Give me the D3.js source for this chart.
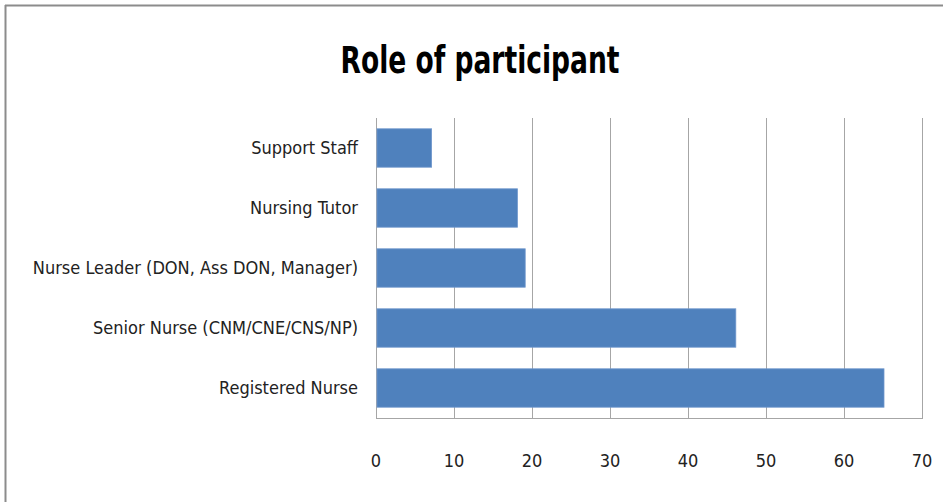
<!DOCTYPE html>
<html>
<head>
<meta charset="utf-8">
<script src="https://cdn.jsdelivr.net/npm/d3@7"></script>
<style>
  body { margin: 0; background: #fff; }
  text { font-family: "Liberation Sans Narrow", "DejaVu Sans Condensed", "Open Sans", sans-serif; }
</style>
</head>
<body>
<script>
// data
var roles = ["Support Staff", "Nursing Tutor", "Nurse Leader (DON, Ass DON, Manager)",
             "Senior Nurse (CNM/CNE/CNS/NP)", "Registered Nurse"];
var counts = [7, 18, 19, 46, 65];
var xTicks = [0, 10, 20, 30, 40, 50, 60, 70];

var w = 943, h = 502;
var plotLeft = 376, plotRight = 922, plotTop = 118, plotBottom = 418;

var svg = d3.select("body").append("svg")
    .attr("width", w)
    .attr("height", h);

// outer frame (only top and left show)
svg.append("line").attr("x1", 5).attr("x2", w).attr("y1", 5.5).attr("y2", 5.5)
   .attr("stroke", "#8c8c8c").attr("stroke-width", 2);
svg.append("line").attr("x1", 5.5).attr("x2", 5.5).attr("y1", 5).attr("y2", h)
   .attr("stroke", "#8c8c8c").attr("stroke-width", 2);

// title
svg.append("text")
   .attr("x", 480)
   .attr("y", 73)
   .style("text-anchor", "middle")
   .style("font-size", "37px")
   .style("font-weight", "bold")
   .attr("textLength", 279)
   .attr("lengthAdjust", "spacingAndGlyphs")
   .text("Role of participant");

var xScale = d3.scaleLinear()
    .domain([0, 70])
    .range([plotLeft, plotRight]);

var yScale = d3.scaleBand()
    .domain(roles)
    .range([plotTop, plotBottom])
    .paddingInner(0.36)
    .paddingOuter(0.18);

// gridlines
svg.selectAll(".grid")
   .data(xTicks)
   .enter().append("line")
   .attr("class", "grid")
   .attr("x1", function(d) { return Math.round(xScale(d)) + 0.5; })
   .attr("x2", function(d) { return Math.round(xScale(d)) + 0.5; })
   .attr("y1", plotTop)
   .attr("y2", plotBottom)
   .attr("stroke", "#a6a6a6")
   .attr("stroke-width", 1);

// baseline
svg.append("line")
   .attr("x1", plotLeft).attr("x2", plotRight + 1)
   .attr("y1", plotBottom + 0.5).attr("y2", plotBottom + 0.5)
   .attr("stroke", "#a6a6a6");

// bars
svg.selectAll(".bar")
   .data(counts)
   .enter().append("rect")
   .attr("class", "bar")
   .attr("x", xScale(0) + 1)
   .attr("y", function(d, i) { return yScale(roles[i]); })
   .attr("width", function(d) { return xScale(d) - xScale(0); })
   .attr("height", yScale.bandwidth())
   .attr("fill", "#4f81bd")
   .attr("stroke", "#6f97cc")
   .attr("stroke-width", 0.8);

// category labels
svg.selectAll(".cat")
   .data(roles)
   .enter().append("text")
   .attr("class", "cat")
   .attr("x", plotLeft - 18)
   .attr("y", function(d) { return yScale(d) + yScale.bandwidth() / 2; })
   .attr("dy", "0.35em")
   .style("text-anchor", "end")
   .style("font-size", "18px")
   .attr("fill", "#222")
   .text(function(d) { return d; });

// x tick labels
svg.selectAll(".tick-label")
   .data(xTicks)
   .enter().append("text")
   .attr("class", "tick-label")
   .attr("x", function(d) { return xScale(d); })
   .attr("y", 461)
   .attr("dy", "0.35em")
   .style("text-anchor", "middle")
   .style("font-size", "18px")
   .attr("fill", "#222")
   .text(function(d) { return d; });
</script>
</body>
</html>
